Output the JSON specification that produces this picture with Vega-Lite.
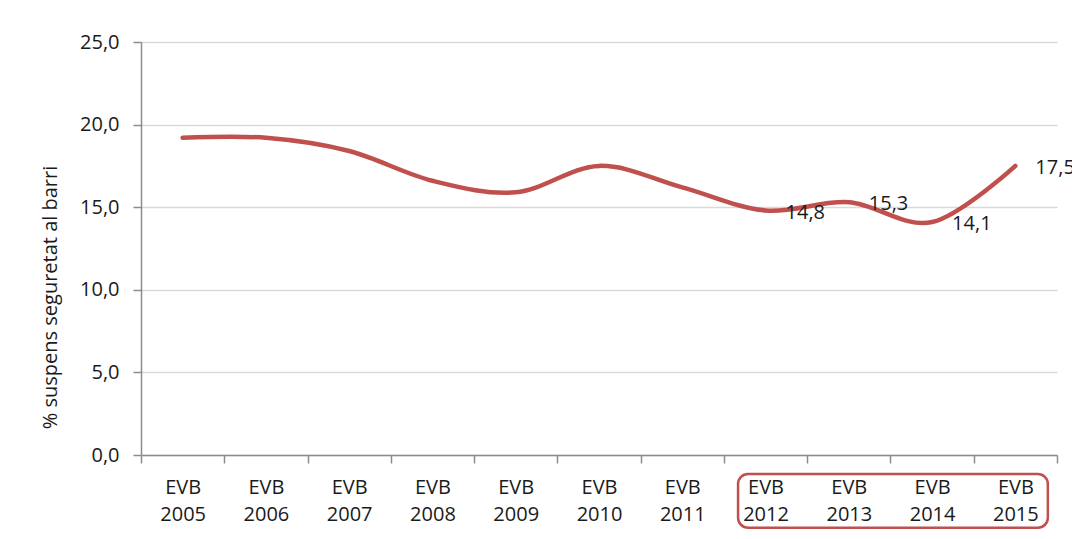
{
  "$schema": "https://vega.github.io/schema/vega-lite/v6.json",
  "width": 916,
  "height": 413,
  "autosize": {"type": "none"},
  "padding": {"left": 141, "top": 42, "right": 15, "bottom": 84},
  "background": "white",
  "config": {
    "locale": {"number": {"decimal": ",", "thousands": ".", "grouping": [3], "currency": ["", " €"]}},
    "view": {"stroke": null},
    "font": "Open Sans"
  },
  "datasets": {
    "series": [
      {"year": "EVB 2005", "value": 19.2},
      {"year": "EVB 2006", "value": 19.2},
      {"year": "EVB 2007", "value": 18.4},
      {"year": "EVB 2008", "value": 16.6},
      {"year": "EVB 2009", "value": 15.9},
      {"year": "EVB 2010", "value": 17.5},
      {"year": "EVB 2011", "value": 16.2},
      {"year": "EVB 2012", "value": 14.8, "show": true},
      {"year": "EVB 2013", "value": 15.3, "show": true},
      {"year": "EVB 2014", "value": 14.1, "show": true},
      {"year": "EVB 2015", "value": 17.5, "show": true}
    ],
    "box": [
      {"from": "EVB 2012", "to": "EVB 2015", "top": -1.15, "bottom": -4.4}
    ]
  },
  "layer": [
    {
      "data": {"name": "series"},
      "mark": {"type": "line", "interpolate": "cardinal", "color": "#C0504D", "strokeWidth": 4.5, "strokeCap": "round"},
      "encoding": {
        "x": {
          "field": "year", "type": "nominal", "sort": null,
          "scale": {"type": "band", "paddingInner": 0, "paddingOuter": 0},
          "axis": {
            "title": null, "tickBand": "extent", "labelExpr": "split(datum.label, ' ')",
            "labelAngle": 0, "labelFontSize": 20, "labelLineHeight": 27, "labelPadding": 14,
            "labelBaseline": "top", "tickSize": 8, "domainColor": "#8c8c8c", "tickColor": "#8c8c8c",
            "domainWidth": 1.5, "tickWidth": 1.5, "grid": false, "labelColor": "#1a1a1a"
          }
        },
        "y": {
          "field": "value", "type": "quantitative",
          "scale": {"domain": [0, 25], "nice": false, "zero": true},
          "axis": {
            "values": [0, 5, 10, 15, 20, 25], "format": ".1f",
            "title": "% suspens seguretat al barri", "titleFontSize": 20, "titleFontWeight": "normal",
            "titleColor": "#1a1a1a", "titleX": -91, "titleY": 255, "titleBaseline": "middle", "titleAngle": -90,
            "grid": true, "gridColor": "#d9d9d9", "gridWidth": 1.5,
            "domainColor": "#8c8c8c", "tickColor": "#8c8c8c", "domainWidth": 1.5, "tickWidth": 1.5,
            "tickSize": 8, "labelPadding": 14, "labelFontSize": 20, "labelColor": "#1a1a1a"
          }
        }
      }
    },
    {
      "data": {"name": "series"},
      "transform": [{"filter": "datum.show === true"}],
      "mark": {"type": "text", "align": "left", "baseline": "middle", "dx": 20, "dy": 2, "fontSize": 20, "color": "#1a1a1a"},
      "encoding": {
        "x": {"field": "year", "type": "nominal", "sort": null},
        "y": {"field": "value", "type": "quantitative", "scale": {"domain": [0, 25], "nice": false}},
        "text": {"field": "value", "type": "quantitative", "format": ".1f"}
      }
    },
    {
      "data": {"name": "box"},
      "mark": {"type": "rect", "fill": null, "fillOpacity": 0, "stroke": "#C0504D", "strokeWidth": 2.5, "cornerRadius": 10, "clip": false},
      "encoding": {
        "x": {"field": "from", "type": "nominal", "bandPosition": 0.17},
        "x2": {"field": "to", "bandPosition": 0.89},
        "y": {"field": "top", "type": "quantitative", "scale": {"domain": [0, 25], "nice": false}},
        "y2": {"field": "bottom"}
      }
    }
  ]
}
